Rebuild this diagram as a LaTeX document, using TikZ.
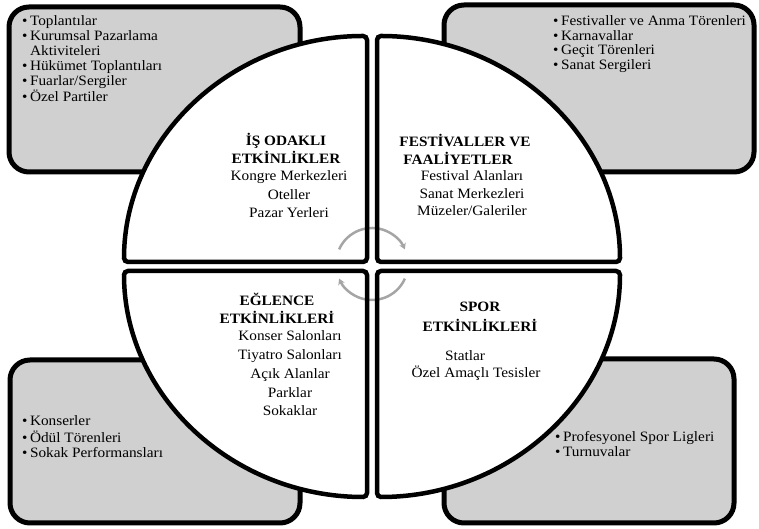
\documentclass[tikz,border=0pt]{standalone}
\usepackage{fontspec}
\setmainfont{Liberation Serif}[FakeStretch=1.07]
\usetikzlibrary{arrows.meta}
\definecolor{boxgray}{RGB}{208,208,208}
\definecolor{arcgray}{RGB}{165,165,165}
\newcommand{\bl}{\textbullet\hspace{2.5pt}}
\newcommand{\lines}[2]{\begin{tabular}[t]{@{}#1@{}}#2\end{tabular}}
\newcommand{\fsb}{\fontsize{14.3}{14.8}\selectfont}
\newcommand{\fsq}{\fontsize{14.3}{18}\selectfont}
\newcommand{\fsr}{\fontsize{14.3}{18.5}\selectfont}
\def\qTL{(367,267) -- (124,267) arc[start angle=180,end angle=90,x radius=243pt,y radius=226pt] -- cycle}
\def\qTR{(377,267) -- (377,493) arc[start angle=90,end angle=0,x radius=243pt,y radius=226pt] -- cycle}
\def\qBL{(367,258) -- (124,258) arc[start angle=180,end angle=270,x radius=243pt,y radius=226pt] -- cycle}
\def\qBR{(377,258) -- (620,258) arc[start angle=0,end angle=-90,x radius=243pt,y radius=226pt] -- cycle}
\begin{document}
\begin{tikzpicture}[x=1pt,y=1pt,
  sidebox/.style={fill=boxgray, draw=black, line width=5pt, rounded corners=20pt},
  quadline/.style={draw=black, line width=4.5pt, rounded corners=4pt},
  quadfill/.style={fill=white, rounded corners=4pt},
  cyc/.style={draw=arcgray, line width=2.5pt, -{Stealth[length=6pt,width=7pt]}},
  txt/.style={inner sep=0pt}]
\useasboundingbox (0,0) rectangle (759,529);
% side boxes
\draw[sidebox] (9,357) rectangle (300,522);
\draw[sidebox] (444,357) rectangle (754,524);
\draw[sidebox] (10,6) rectangle (300,169);
\draw[sidebox] (444,6) rectangle (734,170);
% quadrant fills
\path[quadfill] \qTL;
\path[quadfill] \qTR;
\path[quadfill] \qBL;
\path[quadfill] \qBR;
% cycle arrows
\draw[cyc] (372,265) ++(156:36pt) arc[start angle=156,end angle=24,radius=36pt];
\draw[cyc] (372,265) ++(-24:36pt) arc[start angle=-24,end angle=-156,radius=36pt];
% quadrant outlines
\draw[quadline] \qTL;
\draw[quadline] \qTR;
\draw[quadline] \qBL;
\draw[quadline] \qBR;
% bullet lists
\node[txt, font=\fsb, anchor=base west] (tllist) at (22,503)
  {\lines{l}{\bl Toplantılar\\ \bl Kurumsal Pazarlama\\ \phantom{\bl}Aktiviteleri\\ \bl Hükümet Toplantıları\\ \bl Fuarlar/Sergiler\\ \bl Özel Partiler}};
\node[txt, font=\fontsize{14.3}{14.5}\selectfont, anchor=base west] (trlist) at (553,503)
  {\lines{l}{\bl Festivaller ve Anma Törenleri\\ \bl Karnavallar\\ \bl Geçit Törenleri\\ \bl Sanat Sergileri}};
\node[txt, font=\fontsize{14.3}{15}\selectfont, anchor=base west] (bllist) at (22,103)
  {\lines{l}{\bl Konserler\\ \bl Ödül Törenleri\\ \bl Sokak Performansları}};
\node[txt, font=\fontsize{14.3}{15}\selectfont, anchor=base west] (brlist) at (555,87)
  {\lines{l}{\bl Profesyonel Spor Ligleri\\ \bl Turnuvalar}};
% quadrant texts
\node[txt, font=\fsq\bfseries, anchor=base] (tltitle) at (286,383)
  {\lines{c}{İŞ ODAKLI\\ ETKİNLİKLER}};
\node[txt, font=\fsr, anchor=base] (tlbody) at (289,348)
  {\lines{c}{Kongre Merkezleri\\ Oteller\\ Pazar Yerleri}};
\node[txt, font=\fontsize{14.3}{16.5}\selectfont\bfseries, anchor=base] (trtitle) at (465,382)
  {\lines{c}{FESTİVALLER VE\\ FAALİYETLER\hspace*{14pt}}};
\node[txt, font=\fontsize{14.3}{17.5}\selectfont, anchor=base] (trbody) at (472,348)
  {\lines{c}{Festival Alanları\\ Sanat Merkezleri\\ Müzeler/Galeriler}};
\node[txt, font=\fsq\bfseries, anchor=base] (bltitle) at (277,223)
  {\lines{c}{EĞLENCE\\ ETKİNLİKLERİ}};
\node[txt, font=\fontsize{14.3}{18.75}\selectfont, anchor=base] (blbody) at (290,188)
  {\lines{c}{Konser Salonları\\ Tiyatro Salonları\\ Açık Alanlar\\ Parklar\\ Sokaklar}};
\node[txt, font=\fontsize{14.3}{20}\selectfont\bfseries, anchor=base] (brtitle) at (480,217)
  {\lines{c}{SPOR\\ ETKİNLİKLERİ}};
\node[txt, font=\fontsize{14.3}{17}\selectfont, anchor=base] (brbody) at (476,168)
  {\lines{c}{Statlar\hspace*{22pt}\\ Özel Amaçlı Tesisler}};
\end{tikzpicture}
\end{document}
